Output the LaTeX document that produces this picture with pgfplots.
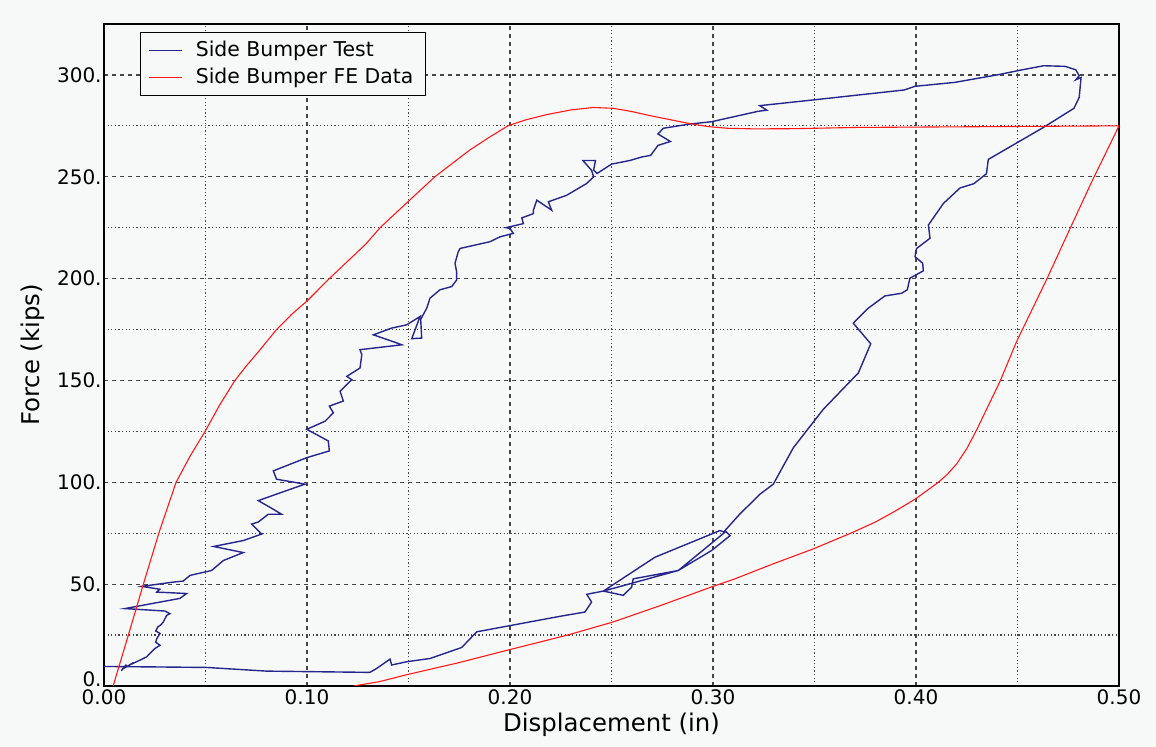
\documentclass[border=0pt]{standalone}
\usepackage{fontspec}
\setmainfont{DejaVu Sans}
\usepackage{pgfplots}
\pgfplotsset{compat=1.18}
\definecolor{bg}{RGB}{247,249,249}
\definecolor{testblue}{RGB}{38,38,140}
\definecolor{fered}{RGB}{255,25,25}
\definecolor{gridgray}{RGB}{70,70,70}
\begin{document}
\begin{tikzpicture}
\path[use as bounding box, fill=bg] (0,0) rectangle (578pt,373.5pt);
\begin{axis}[
  at={(52pt,30.5pt)}, anchor=south west,
  scale only axis, width=507.5pt, height=331pt,
  xmin=0, xmax=0.5, ymin=0, ymax=325,
  xtick={0,0.1,0.2,0.3,0.4,0.5},
  xticklabels={0.00,0.10,0.20,0.30,0.40,0.50},
  minor xtick={0.05,0.15,0.25,0.35,0.45},
  ytick={0,50,100,150,200,250,300},
  yticklabels={\raisebox{7pt}{0.},50.,100.,150.,200.,250.,300.},
  minor ytick={25,75,125,175,225,275},
  grid=both,
  major grid style={gridgray, line width=0.6pt, dash pattern=on 2pt off 2pt},
  minor grid style={gridgray, line width=0.6pt, dash pattern=on 0.6pt off 1.2pt},
  major tick length=0pt, minor tick length=0pt,
  axis line style={black, line width=0.6pt},
  tick label style={font=\fontsize{10}{12}\selectfont},
  xticklabel style={inner ysep=1.5pt},
  yticklabel style={inner xsep=1pt},
  xlabel={Displacement (in)},
  ylabel={Force (kips)},
  label style={font=\fontsize{12.2}{14}\selectfont},
  xlabel style={at={(axis description cs:0.5,-0.040)}, anchor=north, inner ysep=0pt},
  ylabel style={at={(axis description cs:-0.070,0.5)}, anchor=center},
  legend style={at={(axis description cs:0.0355,0.988)}, anchor=north west, draw=black, fill=bg,
    font=\fontsize{10.2}{12}\selectfont, inner xsep=4pt, inner ysep=2.5pt, row sep=0pt},
  legend cell align=left,
  legend image code/.code={\draw[#1] (0pt,0pt) -- (16.5pt,0pt); \path (21pt,0pt);},
]
\addplot[testblue, line width=0.7pt] coordinates {
(0.0085,7.5)(0.0110,10.5)(0.0100,8.8)(0.0145,11.5)(0.0130,10.5)(0.0177,12.7)
(0.0210,14.3)(0.0251,18.4)(0.0276,20.0)(0.0255,21.5)(0.0260,23.3)(0.0276,25.8)
(0.0255,27.0)(0.0265,29.0)(0.0280,30.0)(0.0292,31.4)(0.0309,34.7)(0.0325,35.5)
(0.0300,36.8)(0.0103,38.0)(0.0374,43.0)(0.0407,45.4)(0.0260,46.1)(0.0275,47.5)
(0.0186,48.9)(0.0341,51.0)(0.0390,51.5)(0.0424,54.3)(0.0530,56.7)(0.0588,61.6)
(0.0686,65.5)(0.0540,68.5)(0.0686,71.4)(0.0777,74.6)(0.0727,79.5)(0.0760,80.5)
(0.0809,84.3)(0.0875,84.3)(0.0818,87.7)(0.0760,91.0)(0.0850,94.2)(0.0990,99.1)
(0.0850,101.5)(0.0834,105.6)(0.0999,112.1)(0.1110,115.4)(0.1105,120.3)(0.0999,126.0)
(0.1089,130.0)(0.1130,134.1)(0.1110,137.4)(0.1179,139.9)(0.1163,144.7)(0.1196,148.0)
(0.1220,150.4)(0.1196,152.0)(0.1261,156.1)(0.1270,162.6)(0.1261,165.1)(0.1467,167.5)
(0.1440,168.5)(0.1327,172.4)(0.1417,175.7)(0.1491,177.3)(0.1557,181.4)(0.1516,170.5)
(0.1565,170.8)(0.1560,180.0)(0.1590,185.5)(0.1606,190.4)(0.1655,194.5)(0.1713,196.1)
(0.1737,199.3)(0.1737,203.4)(0.1729,207.5)(0.1745,213.2)(0.1754,214.8)(0.1901,218.1)
(0.1951,220.5)(0.2016,222.2)(0.2000,224.6)(0.1980,225.0)(0.2066,227.0)(0.2058,229.8)
(0.2115,231.9)(0.2115,233.6)(0.2132,238.5)(0.2205,233.6)(0.2189,237.7)(0.2279,240.9)
(0.2376,246.6)(0.2412,249.9)(0.2402,253.1)(0.2359,258.0)(0.2421,258.0)(0.2412,253.3)
(0.2429,251.6)(0.2500,256.2)(0.2591,258.0)(0.2649,259.7)(0.2693,260.5)(0.2729,265.4)
(0.2790,267.3)(0.2729,271.0)(0.2755,273.8)(0.2887,275.9)(0.2992,277.0)(0.3221,282.1)
(0.3265,282.7)(0.3230,284.9)(0.3502,287.8)(0.3942,292.6)(0.3995,294.4)(0.4189,296.3)
(0.4400,300.0)(0.4523,302.5)(0.4629,304.5)(0.4734,304.2)(0.4787,302.5)(0.4804,299.6)
(0.4787,297.6)(0.4813,298.7)(0.4804,289.0)(0.4778,283.6)(0.4629,274.3)(0.4356,258.5)
(0.4347,251.5)(0.4285,246.6)(0.4217,244.5)(0.4135,236.9)(0.4061,226.3)(0.4069,219.8)
(0.4003,214.8)(0.3995,210.8)(0.4033,207.5)(0.4036,203.8)(0.3970,200.2)(0.3957,194.5)
(0.3929,192.8)(0.3847,191.5)(0.3765,185.5)(0.3691,178.1)(0.3777,168.0)(0.3716,153.7)
(0.3543,135.8)(0.3396,117.0)(0.3297,99.1)(0.3232,94.2)(0.3133,84.5)(0.3059,76.3)
(0.3084,73.8)(0.2993,66.5)(0.2829,56.7)(0.2607,52.6)(0.2599,48.5)(0.2558,44.5)
(0.2460,46.6)(0.2714,63.2)(0.3034,76.3)(0.3059,75.5)(0.2829,56.7)(0.2460,46.6)
(0.2378,45.0)(0.2402,41.2)(0.2369,36.3)(0.2246,34.2)(0.1836,26.6)(0.1762,18.9)
(0.1606,13.5)(0.1491,11.9)(0.1417,10.3)(0.1409,13.2)(0.1343,8.6)(0.1310,6.7)
(0.1294,6.7)(0.0801,7.3)(0.0506,9.1)(0.0000,9.6)
};
\addlegendentry{Side Bumper Test}
\addplot[fered, line width=0.55pt] coordinates {
(0.0045,0)(0.0120,25)(0.0194,50)(0.0270,75)(0.0355,100)(0.0425,113)(0.0498,125)
(0.0570,138)(0.0645,150)(0.0700,157)(0.0760,164)(0.0850,175)(0.0925,182.5)(0.1000,189)
(0.1110,200)(0.1200,208.5)(0.1290,217)(0.1360,225)(0.1430,231.5)(0.1500,238)
(0.1630,250)(0.1800,263)(0.1900,269.5)(0.1990,275)(0.2080,278)(0.2180,280.5)
(0.2300,282.8)(0.2410,284)(0.2510,283.6)(0.2600,282)(0.2690,280)(0.2790,278)
(0.2890,276)(0.2980,274.6)(0.3070,273.8)(0.3200,273.5)(0.3400,273.6)(0.3700,274.2)
(0.4200,274.5)(0.5000,275)
(0.4865,247.4)(0.4759,224.6)(0.4644,199.7)(0.4496,169.2)(0.4414,149.6)(0.4296,125.2)
(0.4250,116.5)(0.4200,109)(0.4155,104)(0.4110,100)(0.4000,92)(0.3900,86)(0.3800,80.5)
(0.3690,75.5)(0.3494,67.3)(0.3297,60)(0.3100,52.3)(0.3000,48.9)(0.2750,39.8)
(0.2507,31.4)(0.2280,24.9)(0.2000,17.9)(0.1750,11.5)(0.1498,5.7)(0.1355,2.1)(0.1230,0)
};
\addlegendentry{Side Bumper FE Data}
\end{axis}
\end{tikzpicture}
\end{document}
